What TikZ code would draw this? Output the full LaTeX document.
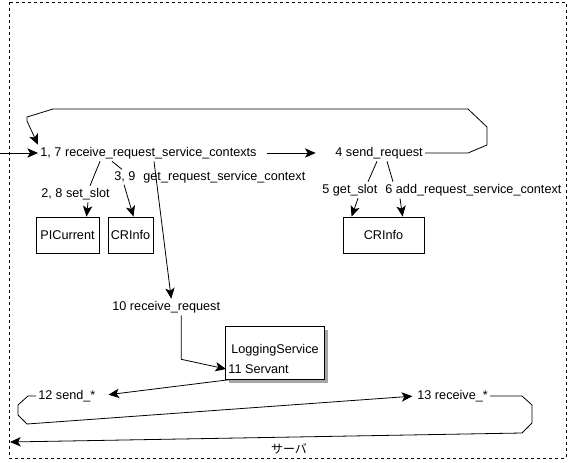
\documentclass[tikz,border=0pt]{standalone}
\usepackage{fontspec}
\setmainfont{Liberation Sans}
\newfontfamily\jpfont{Noto Sans CJK JP}
\usetikzlibrary{arrows.meta,calc,shadows}

\begin{document}
\begin{tikzpicture}[x=0.75pt,y=-0.75pt,line width=0.6pt]
    \tikzset{every node/.style = {font=\fontsize{9.5}{11}\selectfont,inner sep=1.5pt},
        lbl/.style = {anchor=west},
        obj/.style = {shape=rectangle,draw,fill=white,minimum height=27pt},
        arr/.style = {-{Stealth[length=8pt,width=7pt,inset=2pt]}}}
    \useasboundingbox (0,0) rectangle (569,462);

    % server frame
    \draw[dash pattern=on 2.25pt off 2.25pt] (9,2) rectangle (566,458);
    \node[font=\jpfont\fontsize{9}{11}\selectfont] (srvname) at (289,449) {サーバ};

    % operation labels
    \foreach \pos/\name/\txt in {{(38,153)/r17/{1, 7 receive\_request\_service\_contexts}},
        {(333,153)/s4/4 send\_request}, {(39,194)/l28/{2, 8 set\_slot}},
        {(112,177)/l39/{3, 9}}, {(141,177)/grsc/get\_request\_service\_context},
        {(320,190)/l5/5 get\_slot}, {(383,190)/l6/6 add\_request\_service\_context},
        {(110,307)/r10/10 receive\_request}, {(36,396)/s12/12 send\_*},
        {(415,396)/r13/13 receive\_*}}
        \node[lbl] (\name) at \pos {\txt};

    % PI objects
    \foreach \pos/\name/\w/\txt in {{(67.5,235)/pic/47.25pt/PICurrent},
        {(130.5,235)/crl/33.75pt/CRInfo}, {(383.5,235)/crr/60.75pt/CRInfo}}
        \node[obj,minimum width=\w] (\name) at \pos {\txt};

    % servant
    \node[obj,minimum width=74.25pt,minimum height=39.75pt,
        drop shadow={shadow xshift=3pt,shadow yshift=-3pt,fill=gray!70,opacity=1}] (log) at (274.5,352.5) {};
    \node (logt) at (275,350) {LoggingService};
    \node[lbl] (srv) at (226,369) {11 Servant};

    % request comes in, loops back after send_request
    \coordinate (in) at (0,153);
    \coordinate (out) at (10,442);
    \draw[arr] (in) -- (r17.west);
    \draw[arr,shorten <=6pt,shorten >=13pt] (r17.east) -- (s4.west);
    \draw[arr] (s4.east) -- (468,153) -- (487,145) -- (487,127) -- (468,109)
        -- (53,109) -- (27,117) -- (27,121) -- (r17.north west);

    % calls on PICurrent and CRInfo
    \draw ($(r17.south west)+(62,0)$) -- ($(l28.north west)+(51,0)$);
    \draw[arr] ($(l28.south west)+(49,0)$) -- ($(pic.north)+(19,0)$);
    \draw ($(r17.south west)+(74,0)$) -- ($(l39.north west)+(10,0)$);
    \draw[arr] ($(l39.south west)+(12,0)$) -- ($(crl.north)+(3,0)$);
    \draw ($(s4.south west)+(44,0)$) -- ($(l5.north west)+(48,0)$);
    \draw[arr] ($(l5.south west)+(38,0)$) -- ($(crr.north west)+(9,0)$);
    \draw ($(s4.south west)+(54,0)$) -- ($(l6.north west)+(10,0)$);
    \draw[arr] ($(l6.south west)+(17,0)$) -- ($(crr.north west)+(60,0)$);

    % dispatch to the servant and the replies
    \draw[arr] ($(r17.south west)+(116,0)$) -- ($(r10.north)+(5,0)$);
    \draw[arr] ($(r10.south)+(15,0)$) -- ++(0,44) -- (srv.west);
    \draw[arr,shorten >=8pt] ($(log.south west)+(7,0)$) -- (s12.east);
    \draw[arr,shorten >=2pt] (s12.west) -- (28,396) -- (18,405) -- (18,415) -- (27,424) -- (r13.west);
    \draw[arr] (r13.east) -- (522,396) -- (532,405) -- (532,423) -- (522,433) -- (out);
\end{tikzpicture}
\end{document}
